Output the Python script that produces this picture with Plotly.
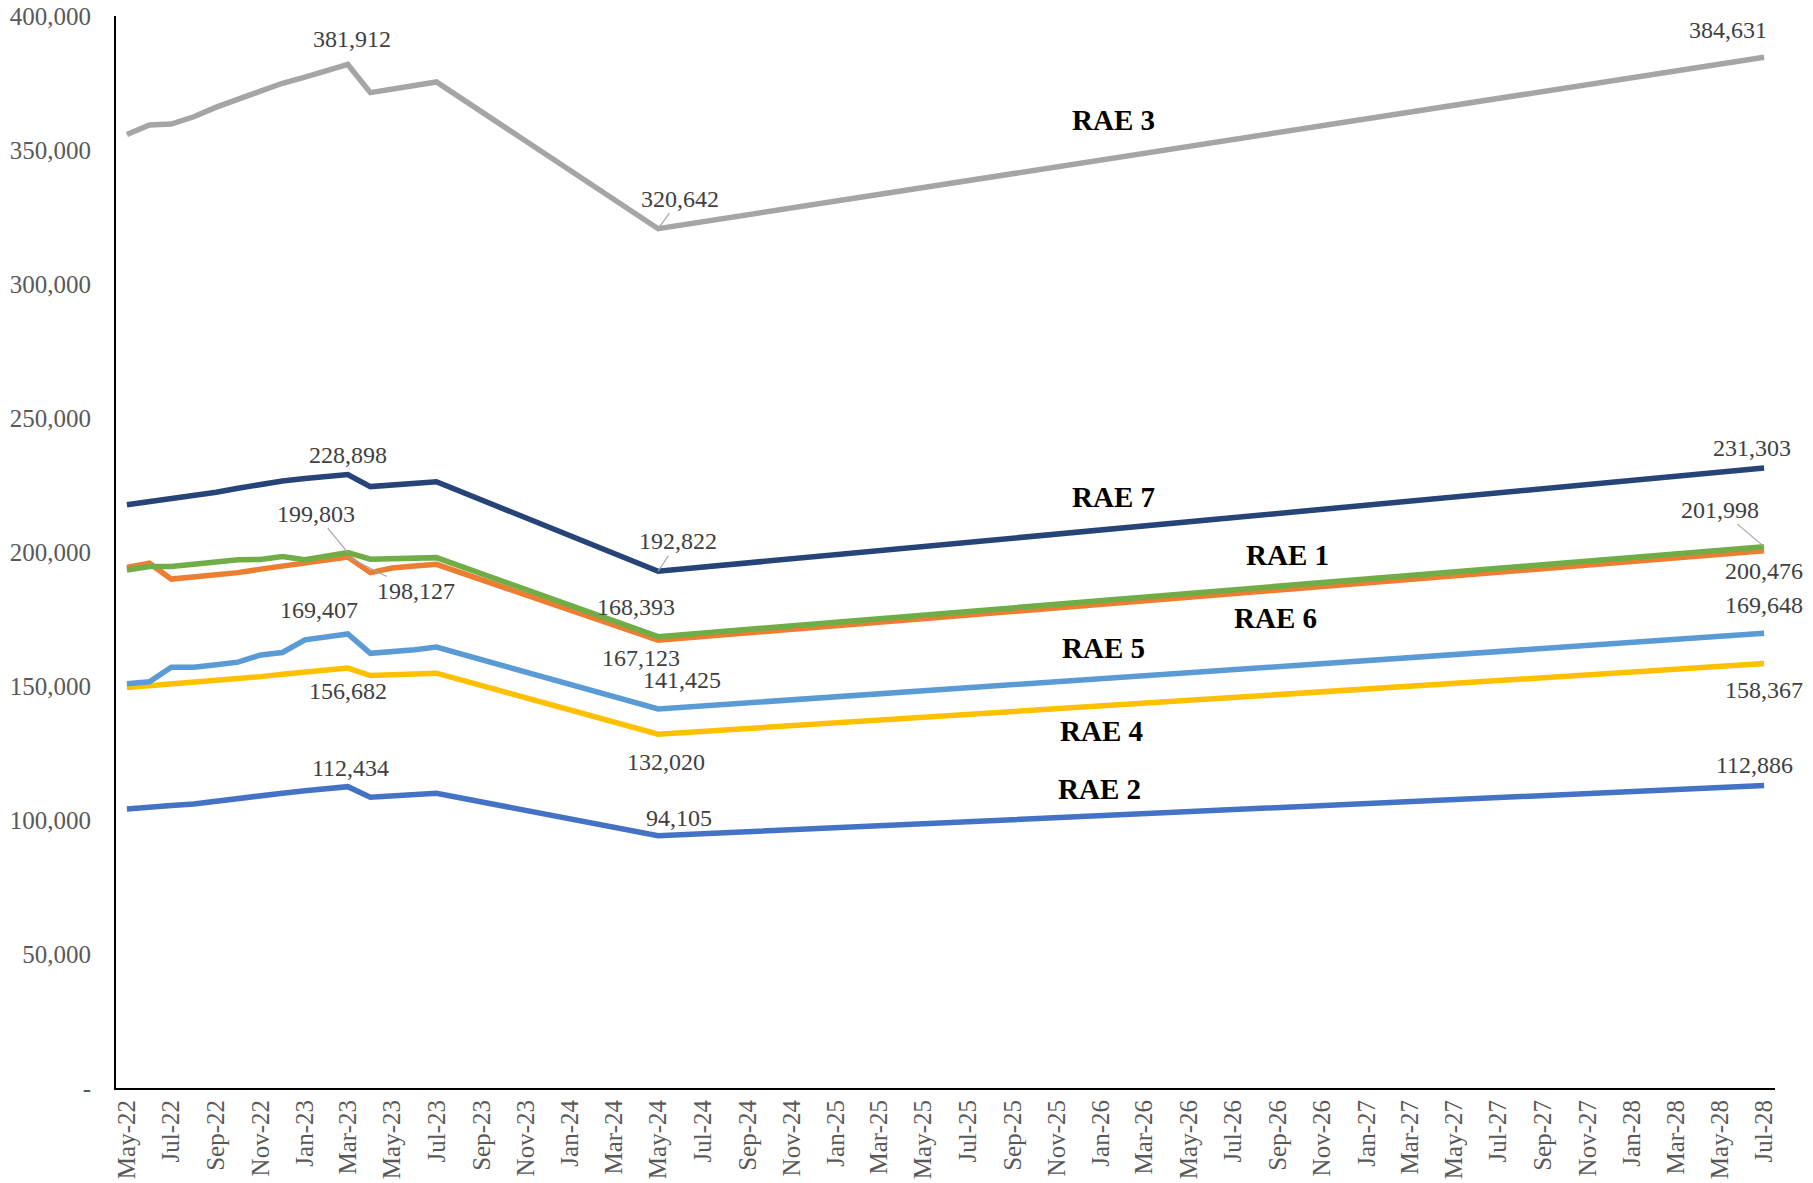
import plotly.graph_objects as go

# ---------------- data ----------------
dates = [
    "2022-05-01", "2022-06-01", "2022-07-01", "2022-08-01", "2022-09-01",
    "2022-10-01", "2022-11-01", "2022-12-01", "2023-01-01", "2023-02-01",
    "2023-03-01", "2023-04-01", "2023-05-01", "2023-06-01", "2023-07-01",
    "2024-05-01", "2028-07-01",
]

rae1 = [193300, 194600, 194600, 195600, 196200, 197100, 197200, 198300, 197100, 198300,
        199803, 197300, 197400, 197700, 197900, 168393, 201998]
rae2 = [104100, 105000, 105400, 106000, 107100, 108100, 109000, 110000, 110900, 111700,
        112434, 108500, 109000, 109400, 110000, 94105, 112886]
rae3 = [355800, 359300, 359700, 362400, 366000, 369000, 372200, 374900, 377200, 379600,
        381912, 371400, 372700, 374000, 375400, 320642, 384631]
rae4 = [149400, 150100, 150800, 151000, 151900, 152600, 153500, 154400, 155100, 155800,
        156682, 153900, 154100, 154500, 154800, 132020, 158367]
rae5 = [150800, 151600, 157000, 157000, 157900, 158900, 161600, 162500, 167200, 168400,
        169407, 162200, 162600, 163500, 164500, 141425, 169648]
rae6 = [194200, 195800, 189900, 190600, 191500, 192300, 193600, 194800, 196000, 197100,
        198127, 192300, 194000, 194800, 195400, 167123, 200476]
rae7 = [217600, 218800, 219700, 220700, 222300, 223800, 225300, 226500, 227400, 228300,
        228898, 224400, 225000, 225500, 226200, 192822, 231303]

y_tickvals = [0, 50000, 100000, 150000, 200000, 250000, 300000, 350000, 400000]
y_ticktext = ["-", "50,000", "100,000", "150,000", "200,000", "250,000",
              "300,000", "350,000", "400,000"]

series = {
    "RAE 2": rae2,
    "RAE 6": rae6,
    "RAE 3": rae3,
    "RAE 4": rae4,
    "RAE 5": rae5,
    "RAE 1": rae1,
    "RAE 7": rae7,
}

# ---------------- styles ----------------
colors = {
    "RAE 1": "#70AD47",
    "RAE 2": "#4472C4",
    "RAE 3": "#A5A5A5",
    "RAE 4": "#FFC000",
    "RAE 5": "#5B9BD5",
    "RAE 6": "#ED7D31",
    "RAE 7": "#264478",
}

FONT = "Times New Roman, Liberation Serif, serif"

fig = go.Figure()
for name, vals in series.items():
    fig.add_trace(go.Scatter(
        x=dates, y=vals, mode="lines", name=name,
        line=dict(color=colors[name], width=5.5),
        showlegend=False, hoverinfo="skip",
    ))

# data labels: (series, index, dx, dy, leader)
label_spec = [
    ("RAE 3", 10, 4, -25, False), ("RAE 3", 15, 22, -30, True), ("RAE 3", 16, -36, -27, False),
    ("RAE 7", 10, 0, -20, False), ("RAE 7", 15, 20, -30, True), ("RAE 7", 16, -12, -20, False),
    ("RAE 1", 10, -32, -39, True), ("RAE 1", 15, -22, -30, False), ("RAE 1", 16, -44, -37, True),
    ("RAE 6", 10, 68, 34, True), ("RAE 6", 15, -17, 18, False), ("RAE 6", 16, 0, 20, False),
    ("RAE 5", 10, -29, -24, False), ("RAE 5", 15, 24, -29, False), ("RAE 5", 16, 0, -28, False),
    ("RAE 4", 10, 0, 23, False), ("RAE 4", 15, 8, 28, False), ("RAE 4", 16, 0, 26, False),
    ("RAE 2", 10, 3, -19, False), ("RAE 2", 15, 21, -18, False), ("RAE 2", 16, -10, -20, False),
]

annotations = []
for name, idx, dx, dy, leader in label_spec:
    v = series[name][idx]
    base = dict(x=dates[idx], y=v, xref="x", yref="y", text=f"{v:,}",
                xanchor="center", yanchor="middle",
                font=dict(family=FONT, size=24, color="#404040"))
    if leader:
        base.update(showarrow=True, ax=dx, ay=dy, axref="pixel", ayref="pixel",
                    arrowhead=0, arrowwidth=1.2, arrowcolor="#A5A5A5", standoff=0)
    else:
        base.update(showarrow=False, xshift=dx, yshift=-dy)
    annotations.append(base)

# series name labels (paper coords)
name_pos = {
    "RAE 3": (0.601, 0.903),
    "RAE 7": (0.601, 0.551),
    "RAE 1": (0.706, 0.497),
    "RAE 6": (0.699, 0.438),
    "RAE 5": (0.595, 0.410),
    "RAE 4": (0.594, 0.333),
    "RAE 2": (0.593, 0.279),
}
for name, (px, py) in name_pos.items():
    annotations.append(dict(
        x=px, y=py, xref="paper", yref="paper", showarrow=False,
        xanchor="center", yanchor="middle",
        text=f"<b>{name}</b>", font=dict(family=FONT, size=29, color="#000000"),
    ))

fig.update_layout(
    template="none",
    width=1813, height=1183,
    margin=dict(l=116, r=38, t=16, b=95, pad=0, autoexpand=False),
    plot_bgcolor="white", paper_bgcolor="white",
    font=dict(family=FONT, size=25, color="#595959"),
    annotations=annotations,
)

fig.update_xaxes(
    type="date", automargin=False,
    range=["2022-04-16", "2028-07-16"],
    tick0="2022-05-01", dtick="M2", tickformat="%b-%y",
    tickangle=-90, ticks="", showgrid=False, zeroline=False,
    showline=True, linecolor="#000000", linewidth=2,
    tickfont=dict(family=FONT, size=25, color="#595959"),
    ticklabelstandoff=0,
)
fig.update_yaxes(
    range=[0, 400000], automargin=False,
    tickvals=y_tickvals, ticktext=y_ticktext,
    ticks="", showgrid=False, zeroline=False,
    showline=True, linecolor="#000000", linewidth=2,
    tickfont=dict(family=FONT, size=25, color="#595959"),
    ticklabelstandoff=18, ticklabeloverflow="allow",
)

fig.write_html(
    "out.html",
    config={"displayModeBar": False},
    post_script="document.body.style.margin='0px';document.body.style.overflow='hidden';",
)
